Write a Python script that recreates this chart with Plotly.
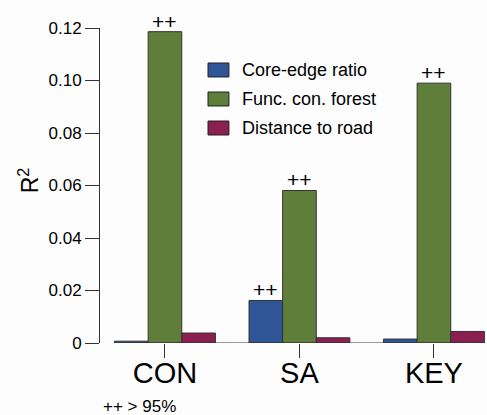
import plotly.graph_objects as go

categories = ["CON", "SA", "KEY"]
series_names = ["Core-edge ratio", "Func. con. forest", "Distance to road"]
core_edge = [0.0007, 0.0162, 0.0015]
func_con = [0.1186, 0.0581, 0.0990]
dist_road = [0.0038, 0.0020, 0.0044]
significant = [[False, True, False], [True, True, True], [False, False, False]]
y_tick_vals = [0, 0.02, 0.04, 0.06, 0.08, 0.10, 0.12]
y_tick_text = ["0", "0.02", "0.04", "0.06", "0.08", "0.10", "0.12"]
colors = ["#2F5597", "#5E7E3A", "#8B1F52"]

FONT = "Liberation Sans, Arial, Helvetica, sans-serif"
series = [core_edge, func_con, dist_road]
x_idx = list(range(len(categories)))
bargap = 0.25
bar_w = (1 - bargap) / len(series)

fig = go.Figure()
for name, vals, col in zip(series_names, series, colors):
    fig.add_trace(go.Bar(
        x=x_idx, y=vals, name=name, showlegend=False,
        marker=dict(color=col, line=dict(color="#333333", width=1)),
    ))

annotations = []
for s_i, vals in enumerate(series):
    offset = (s_i - (len(series) - 1) / 2) * bar_w
    for c_i, v in enumerate(vals):
        if significant[s_i][c_i]:
            annotations.append(dict(
                x=c_i + offset, y=v, xref="x", yref="y", text="++",
                showarrow=False, yanchor="bottom", yshift=-3,
                font=dict(size=21, color="black", family=FONT),
            ))

# y-axis title
annotations.append(dict(x=-0.185, y=0.515, xref="paper", yref="paper",
                        text="R<sup>2</sup>", textangle=-90, showarrow=False,
                        xanchor="center", yanchor="middle",
                        font=dict(size=23, color="black", family=FONT)))
# footnote
annotations.append(dict(x=0.102, y=-0.2, xref="paper", yref="paper",
                        text="++ > 95%", showarrow=False,
                        xanchor="center", yanchor="middle",
                        font=dict(size=17, color="black", family=FONT)))

shapes = [dict(type="line", xref="x", yref="y",
               x0=-(1 - bargap) / 2, x1=len(categories) - 1 + (1 - bargap) / 2,
               y0=0, y1=0, line=dict(color="#333333", width=1))]

# manual legend
leg_x0, leg_x1 = 0.2798, 0.334
leg_y = [0.8667, 0.7746, 0.6825]
for name, col, yy in zip(series_names, colors, leg_y):
    shapes.append(dict(type="rect", xref="paper", yref="paper",
                       x0=leg_x0, x1=leg_x1, y0=yy - 0.0222, y1=yy + 0.0222,
                       fillcolor=col, line=dict(color="#222222", width=1)))
    annotations.append(dict(x=0.3627, y=yy, xref="paper", yref="paper",
                            text=name, showarrow=False, xanchor="left",
                            yanchor="middle",
                            font=dict(size=18, color="black", family=FONT)))

fig.update_layout(
    width=487, height=415,
    margin=dict(l=100, r=1, t=28, b=72),
    paper_bgcolor="#FDFDFD", plot_bgcolor="#FDFDFD",
    barmode="group", bargap=bargap, bargroupgap=0,
    font=dict(family=FONT, color="black"),
    annotations=annotations, shapes=shapes,
    xaxis=dict(range=[-0.483, 2.387], tickvals=x_idx, ticktext=categories,
               ticks="outside", ticklen=14, tickcolor="#333333", tickwidth=1,
               ticklabelstandoff=-10,
               showline=False, showgrid=False, zeroline=False,
               tickfont=dict(size=29, family=FONT, color="black")),
    yaxis=dict(range=[0, 0.12], tickvals=y_tick_vals, ticktext=y_tick_text,
               ticks="outside", ticklen=14, tickcolor="#333333", tickwidth=1,
               showline=True, linecolor="#333333", linewidth=1,
               showgrid=False, zeroline=False,
               tickfont=dict(size=17, family=FONT, color="black")),
)

fig.write_html("out.html")
